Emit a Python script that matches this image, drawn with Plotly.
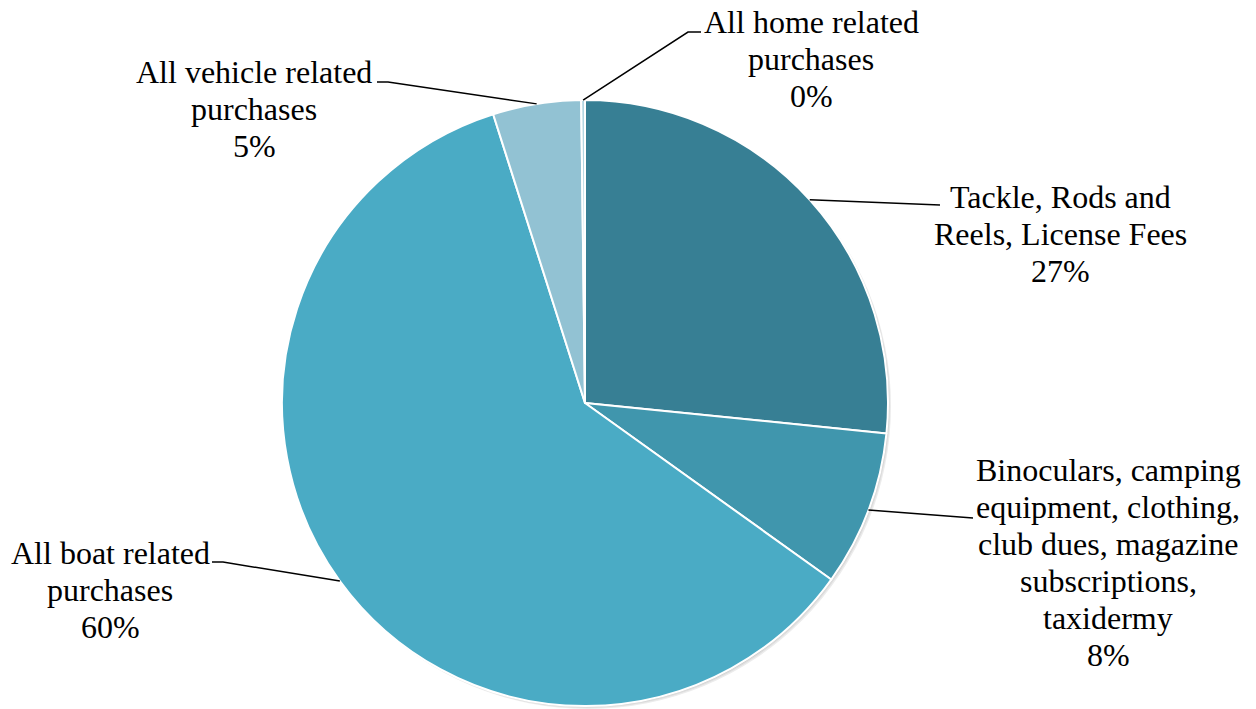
"""Pie chart of fishing-related expenditure shares."""
import math
import plotly.graph_objs as go

W, H = 1256, 709

labels = [
    "Tackle, Rods and<br>Reels, License Fees",
    "Binoculars, camping<br>equipment, clothing,<br>club dues, magazine<br>subscriptions,<br>taxidermy",
    "All boat related<br>purchases",
    "All vehicle related<br>purchases",
    "All home related<br>purchases",
]
values = [26.6, 8.3, 60.2, 4.7, 0.2]
colors = ["#377F94", "#4096AD", "#4AABC5", "#92C2D3", "#B3D6E2"]

# label placement (pixels): text centre x, first line y, leader elbow, leader end
label_pos = [
    dict(cx=1060, y0=197, elbow=(940, 205), end=(940, 205)),
    dict(cx=1108, y0=470, elbow=(973, 518), end=(973, 518)),
    dict(cx=110, y0=553, elbow=(223, 562), end=(212, 562)),
    dict(cx=254, y0=72, elbow=(388, 82), end=(377, 82)),
    dict(cx=811, y0=22, elbow=(688, 32), end=(701, 32)),
]

# pie geometry in pixels
CX, CY, R = 585, 403, 303
FONT = dict(family="Liberation Serif", size=32, color="black")
LINE_H = 37


def px(x):
    return x / W


def py(y):
    return 1 - y / H


fig = go.Figure()
fig.add_trace(go.Pie(
    labels=[l.replace("<br>", " ") for l in labels],
    values=values,
    sort=False,
    direction="clockwise",
    rotation=0,
    textinfo="none",
    hoverinfo="label+percent",
    marker=dict(colors=colors, line=dict(color="white", width=2)),
    domain=dict(x=[px(CX - R), px(CX + R)], y=[py(CY + R), py(CY - R)]),
    showlegend=False,
))

# soft drop shadow behind the pie
shapes = []
for d, col in [(3, "#ececec"), (2, "#dddddd"), (1, "#c8c8c8")]:
    shapes.append(dict(
        type="circle", xref="paper", yref="paper", layer="below",
        x0=px(CX - R + d), x1=px(CX + R + d), y0=py(CY + R + d), y1=py(CY - R + d),
        fillcolor=col, line=dict(width=0),
    ))

total = sum(values)
annotations = []
cum = 0
for lab, val, pos in zip(labels, values, label_pos):
    mid = (cum + val / 2) / total * 2 * math.pi
    cum += val
    sx = CX + R * math.sin(mid)
    sy = CY - R * math.cos(mid)
    ex, ey = pos["elbow"]
    fx, fy = pos["end"]
    shapes.append(dict(
        type="path", xref="paper", yref="paper",
        path=f"M {px(sx)},{py(sy)} L {px(ex)},{py(ey)} L {px(fx)},{py(fy)}",
        line=dict(color="black", width=1.5),
    ))
    lines = lab.split("<br>") + [f"{round(val / total * 100)}%"]
    for i, t in enumerate(lines):
        annotations.append(dict(
            x=px(pos["cx"]), y=py(pos["y0"] + i * LINE_H),
            xref="paper", yref="paper", text=t, showarrow=False,
            xanchor="center", yanchor="middle", font=FONT,
        ))

fig.update_layout(
    width=W, height=H,
    margin=dict(l=0, r=0, t=0, b=0),
    paper_bgcolor="white",
    plot_bgcolor="white",
    shapes=shapes,
    annotations=annotations,
)

# drop the browser's default page margin so the figure fills the window
fig.write_html("out.html", config={"displayModeBar": False},
               post_script="document.body.style.margin = '0';")
